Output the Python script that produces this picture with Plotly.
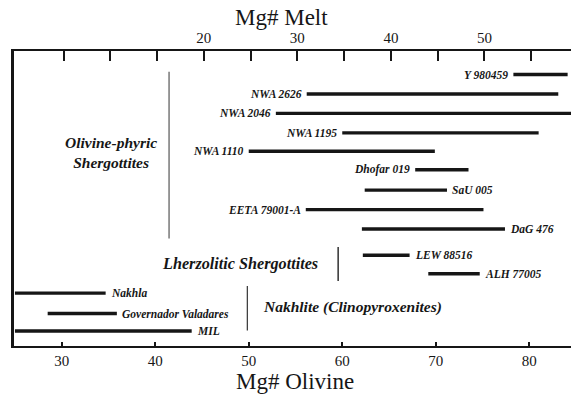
import plotly.graph_objects as go

# ---- data (Mg# olivine ranges) ----
samples = ["Y 980459", "NWA 2626", "NWA 2046", "NWA 1195", "NWA 1110",
           "Dhofar 019", "SaU 005", "EETA 79001-A", "DaG 476",
           "LEW 88516", "ALH 77005",
           "Nakhla", "Governador Valadares", "MIL"]
ol_min = [78.3, 56.2, 52.9, 60.0, 50.0, 67.8, 62.4, 56.1, 62.1, 62.2, 69.2, 25.0, 28.5, 25.0]
ol_max = [84.1, 83.1, 85.0, 81.0, 69.9, 73.5, 71.2, 75.1, 77.4, 67.2, 74.7, 34.7, 35.9, 43.9]
rows = [1, 2, 3, 4, 4.95, 5.9, 6.95, 7.95, 8.95, 10.3, 11.25, 12.25, 13.3, 14.2]
label_side = ["left", "left", "left", "left", "left", "left", "right", "left", "right",
              "right", "right", "right", "right", "right"]

olivine_ticks = [30, 40, 50, 60, 70, 80]
melt_ticks = [5, 10, 15, 20, 25, 30, 35, 40, 45, 50, 55]
melt_labels = ["", "", "", "20", "", "30", "", "40", "", "50", ""]

groups = ["Olivine-phyric<br>Shergottites", "Lherzolitic Shergottites", "Nakhlite (Clinopyroxenites)"]

X_RANGE = [24.9, 84.46]
MELT_OFFSET = 25.2

FONT = "Liberation Serif"
INK = "#161616"

xs, ys = [], []
for a, b, r in zip(ol_min, ol_max, rows):
    xs += [a, b, None]
    ys += [r, r, None]

fig = go.Figure()
fig.add_trace(go.Scatter(x=xs, y=ys, mode="lines",
                         line=dict(color=INK, width=3.4),
                         hoverinfo="skip", showlegend=False))
fig.add_trace(go.Scatter(x=[X_RANGE[0] - MELT_OFFSET], y=[None], xaxis="x2",
                         mode="markers", showlegend=False, hoverinfo="skip"))

annotations = []
for name, a, b, r, side in zip(samples, ol_min, ol_max, rows, label_side):
    if side == "left":
        annotations.append(dict(x=a, y=r, xref="x", yref="y", text=f"<b><i>{name}</i></b>",
                                showarrow=False, xanchor="right", yanchor="middle", xshift=-3,
                                font=dict(family=FONT, size=11.5, color=INK)))
    else:
        annotations.append(dict(x=b, y=r, xref="x", yref="y", text=f"<b><i>{name}</i></b>",
                                showarrow=False, xanchor="left", yanchor="middle", xshift=3,
                                font=dict(family=FONT, size=11.5, color=INK)))

annotations.append(dict(x=35.3, y=5.0, xref="x", yref="y", text=f"<b><i>{groups[0]}</i></b>",
                        showarrow=False, xanchor="center", yanchor="middle", align="center",
                        font=dict(family=FONT, size=15.5, color=INK)))
annotations.append(dict(x=49.05, y=10.74, xref="x", yref="y", text=f"<b><i>{groups[1]}</i></b>",
                        showarrow=False, xanchor="center", yanchor="middle",
                        font=dict(family=FONT, size=16.2, color=INK)))
annotations.append(dict(x=51.3, y=12.97, xref="x", yref="y", text=f"<b><i>{groups[2]}</i></b>",
                        showarrow=False, xanchor="left", yanchor="middle",
                        font=dict(family=FONT, size=15.5, color=INK)))

annotations.append(dict(x=0.4806, y=1.112, xref="paper", yref="paper", text="Mg# Melt",
                        showarrow=False, xanchor="center", yanchor="middle",
                        font=dict(family=FONT, size=23, color=INK)))
annotations.append(dict(x=0.5045, y=-0.1205, xref="paper", yref="paper", text="Mg# Olivine",
                        showarrow=False, xanchor="center", yanchor="middle",
                        font=dict(family=FONT, size=23, color=INK)))

shapes = [
    dict(type="line", xref="x", yref="y", x0=41.48, x1=41.48, y0=0.86, y1=9.44,
         line=dict(color="#555555", width=1.2)),
    dict(type="line", xref="x", yref="y", x0=59.56, x1=59.56, y0=9.88, y1=11.63,
         line=dict(color="#222222", width=1.4)),
    dict(type="line", xref="x", yref="y", x0=49.85, x1=49.85, y0=11.88, y1=14.17,
         line=dict(color="#333333", width=1.2)),
]

fig.update_layout(
    width=571, height=397,
    margin=dict(l=14, r=0, t=51, b=51),
    paper_bgcolor="white", plot_bgcolor="white",
    showlegend=False,
    font=dict(family=FONT, color=INK),
    annotations=annotations,
    shapes=shapes,
    xaxis=dict(range=X_RANGE, tickvals=olivine_ticks, ticks="inside", ticklen=4, tickwidth=2,
               tickcolor=INK, showline=True, linecolor=INK, linewidth=2.2, showgrid=False,
               zeroline=False, tickfont=dict(family=FONT, size=15, color=INK), fixedrange=True),
    xaxis2=dict(overlaying="x", side="top", range=[X_RANGE[0] - MELT_OFFSET, X_RANGE[1] - MELT_OFFSET],
                tickvals=melt_ticks, ticktext=melt_labels, ticks="inside", ticklen=10, tickwidth=2,
                tickcolor=INK, showline=True, linecolor=INK, linewidth=2.2, showgrid=False,
                zeroline=False, tickfont=dict(family=FONT, size=15, color=INK), fixedrange=True),
    yaxis=dict(range=[14.97, -0.211], showticklabels=False, ticks="", showline=True,
               linecolor=INK, linewidth=2.6, showgrid=False, zeroline=False, fixedrange=True),
)

fig.write_html("out.html")
